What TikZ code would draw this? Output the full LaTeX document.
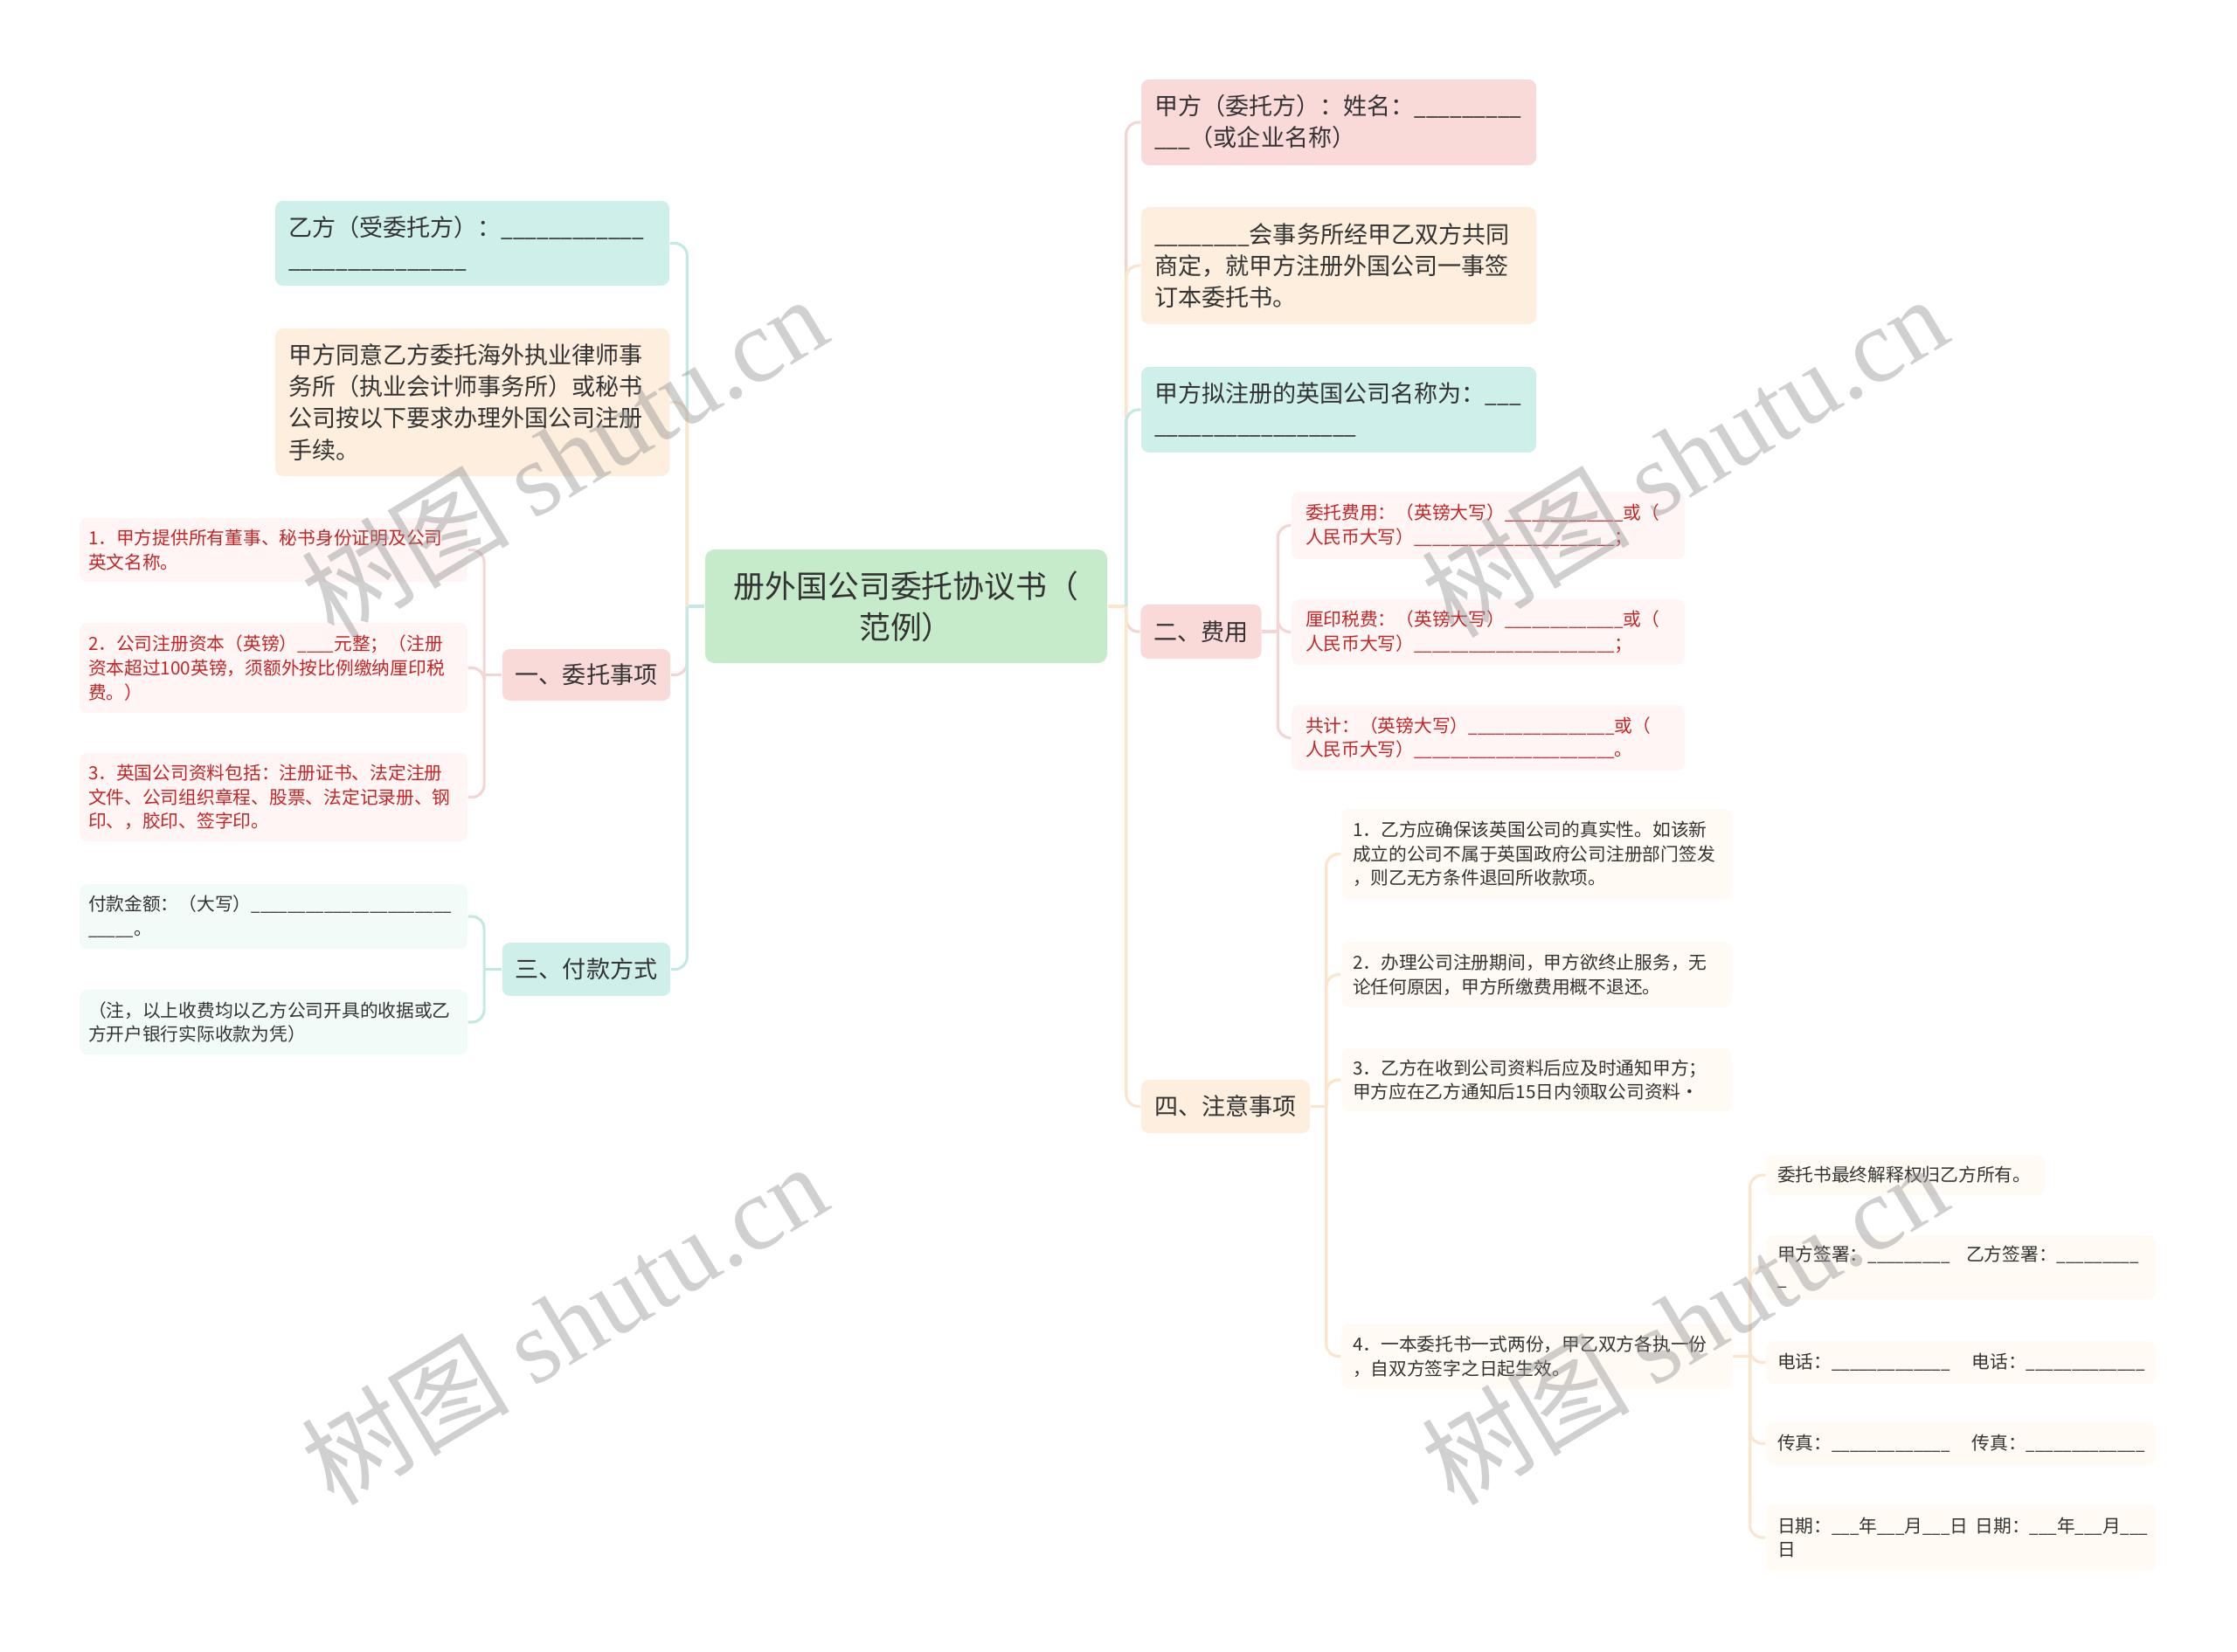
\documentclass[tikz,border=0pt]{standalone}
\usepackage{fontspec}
\setmainfont{Noto Sans CJK SC}
\newfontfamily\wmfont{Liberation Serif}
\usetikzlibrary{positioning}
\newcommand{\blank}[1]{\foreach \n in {1,...,#1}{\scalebox{0.9}[1]{\textunderscore}}}
\definecolor{rootgreen}{RGB}{198,235,203}
\definecolor{pinkfill}{RGB}{250,217,217}
\definecolor{tealfill}{RGB}{207,240,234}
\definecolor{orangefill}{RGB}{253,238,221}
\definecolor{pinkleaf}{RGB}{255,245,245}
\definecolor{tealleaf}{RGB}{243,251,249}
\definecolor{orangeleaf}{RGB}{255,250,243}
\definecolor{pinkline}{RGB}{245,212,212}
\definecolor{tealline}{RGB}{196,233,226}
\definecolor{orangeline}{RGB}{252,229,203}
\definecolor{inkgray}{RGB}{51,51,51}
\definecolor{inkred}{RGB}{196,38,38}
\definecolor{wmgray}{RGB}{150,150,150}
\tikzset
  {
    rootbox/.style  = {rectangle, rounded corners=3pt, fill=rootgreen, align=center, text=inkgray,
                       minimum width=4.6cm, minimum height=1.3cm, font=\fontsize{10.2}{13.4}\selectfont},
    topic/.style    = {rectangle, rounded corners=2.5pt, inner xsep=0.15cm, inner ysep=0pt, align=left,
                       text=inkgray, font=\fontsize{7.7}{10.3}\selectfont},
    leaf/.style     = {rectangle, rounded corners=2.5pt, inner xsep=0.1cm, inner ysep=0pt, align=left,
                       text=inkgray, font=\fontsize{5.9}{7.9}\selectfont},
    conn/.style     = {line width=0.9pt},
    watermark/.style= {text=wmgray, opacity=0.45, font=\fontsize{34}{34}\selectfont},
  }

\begin{document}
\begin{tikzpicture}
  \useasboundingbox (0,0) rectangle (25.6,-18.9);
  % centre
  \node[rootbox] (root) at (10.37,-6.94) {册外国公司委托协议书（\\范例）};
  % left branches
  \node[topic, fill=tealfill, text width=4.21cm, minimum height=0.97cm] (l1) at (5.405,-2.785) {乙方（受委托方）：\blank{12}\\\blank{15}};
  \node[topic, fill=orangefill, text width=4.21cm, minimum height=1.69cm] (l2) at (5.405,-4.605) {甲方同意乙方委托海外执业律师事\\务所（执业会计师事务所）或秘书\\公司按以下要求办理外国公司注册\\手续。};
  \node[topic, fill=pinkfill, minimum width=1.9cm, minimum height=0.59cm, align=center] (l3) at (6.71,-7.725) {一、委托事项};
  \node[topic, fill=tealfill, minimum width=1.9cm, minimum height=0.61cm, align=center] (l4) at (6.71,-11.095) {三、付款方式};
  \node[leaf, fill=pinkleaf, text=inkred, text width=4.24cm, minimum height=0.73cm] (a1) at (3.13,-6.295) {1．甲方提供所有董事、秘书身份证明及公司\\英文名称。};
  \node[leaf, fill=pinkleaf, text=inkred, text width=4.24cm, minimum height=1.03cm] (a2) at (3.13,-7.645) {2．公司注册资本（英镑）\blank{4}元整；（注册\\资本超过100英镑，须额外按比例缴纳厘印税\\费。）};
  \node[leaf, fill=pinkleaf, text=inkred, text width=4.24cm, minimum height=1.01cm] (a3) at (3.13,-9.125) {3．英国公司资料包括：注册证书、法定注册\\文件、公司组织章程、股票、法定记录册、钢\\印、，胶印、签字印。};
  \node[leaf, fill=tealleaf, text width=4.24cm, minimum height=0.74cm] (b1) at (3.13,-10.49) {付款金额：（大写）\blank{22}\\\blank{5}。};
  \node[leaf, fill=tealleaf, text width=4.24cm, minimum height=0.74cm] (b2) at (3.13,-11.70) {（注，以上收费均以乙方公司开具的收据或乙\\方开户银行实际收款为凭）};
  % right branches
  \node[topic, fill=pinkfill, text width=4.22cm, minimum height=0.98cm] (r1) at (15.32,-1.40) {甲方（委托方）：姓名：\blank{9}\\\blank{3}（或企业名称）};
  \node[topic, fill=orangefill, text width=4.22cm, minimum height=1.34cm] (r2) at (15.32,-3.04) {\blank{8}会事务所经甲乙双方共同\\商定，就甲方注册外国公司一事签\\订本委托书。};
  \node[topic, fill=tealfill, text width=4.22cm, minimum height=0.98cm] (r3) at (15.32,-4.69) {甲方拟注册的英国公司名称为：\blank{3}\\\blank{17}};
  \node[topic, fill=pinkfill, minimum width=1.37cm, minimum height=0.62cm, align=center] (r4) at (13.745,-7.23) {二、费用};
  \node[topic, fill=orangefill, minimum width=1.93cm, minimum height=0.61cm, align=center] (r5) at (14.025,-12.665) {四、注意事项};
  \node[leaf, fill=pinkleaf, text=inkred, inner xsep=0.16cm, text width=4.18cm, minimum height=0.77cm] (f1) at (17.03,-6.015) {委托费用：（英镑大写）\blank{13}或（\\人民币大写）\blank{22}；};
  \node[leaf, fill=pinkleaf, text=inkred, inner xsep=0.16cm, text width=4.18cm, minimum height=0.75cm] (f2) at (17.03,-7.235) {厘印税费：（英镑大写）\blank{13}或（\\人民币大写）\blank{22}；};
  \node[leaf, fill=pinkleaf, text=inkred, inner xsep=0.16cm, text width=4.18cm, minimum height=0.75cm] (f3) at (17.03,-8.445) {共计：（英镑大写）\blank{16}或（\\人民币大写）\blank{22}。};
  \node[leaf, fill=orangeleaf, inner xsep=0.13cm, text width=4.21cm, minimum height=1.03cm] (n1) at (17.585,-9.775) {1．乙方应确保该英国公司的真实性。如该新\\成立的公司不属于英国政府公司注册部门签发\\，则乙无方条件退回所收款项。};
  \node[leaf, fill=orangeleaf, inner xsep=0.13cm, text width=4.21cm, minimum height=0.75cm] (n2) at (17.585,-11.155) {2．办理公司注册期间，甲方欲终止服务，无\\论任何原因，甲方所缴费用概不退还。};
  \node[leaf, fill=orangeleaf, inner xsep=0.13cm, text width=4.21cm, minimum height=0.72cm] (n3) at (17.585,-12.36) {3．乙方在收到公司资料后应及时通知甲方；\\甲方应在乙方通知后15日内领取公司资料·};
  \node[leaf, fill=orangeleaf, inner xsep=0.13cm, text width=4.21cm, minimum height=0.75cm] (n4) at (17.585,-15.525) {4．一本委托书一式两份，甲乙双方各执一份\\，自双方签字之日起生效。};
  \node[leaf, fill=orangeleaf, inner xsep=0.13cm, text width=2.93cm, minimum height=0.46cm] (s1) at (21.805,-13.45) {委托书最终解释权归乙方所有。};
  \node[leaf, fill=orangeleaf, inner xsep=0.13cm, text width=4.2cm, minimum height=0.73cm] (s2) at (22.44,-14.505) {\mbox{甲方签署：\blank{9}\hspace{0.9em}乙方签署：\blank{9}}\\\blank{1}};
  \node[leaf, fill=orangeleaf, inner xsep=0.13cm, text width=4.2cm, minimum height=0.49cm] (s3) at (22.44,-15.595) {\mbox{电话：\blank{13}\hspace{1.2em}电话：\blank{13}}};
  \node[leaf, fill=orangeleaf, inner xsep=0.13cm, text width=4.2cm, minimum height=0.49cm] (s4) at (22.44,-16.525) {\mbox{传真：\blank{13}\hspace{1.2em}传真：\blank{13}}};
  \node[leaf, fill=orangeleaf, inner xsep=0.13cm, text width=4.2cm, minimum height=0.76cm] (s5) at (22.44,-17.60) {\mbox{日期：\blank{3}年\blank{3}月\blank{3}日\hspace{0.4em}日期：\blank{3}年\blank{3}月\blank{3}}\\日};

  % connectors, left of the centre
  \draw[conn, tealline] (root.west) -- ++(-0.2,0) coordinate (jl);
  \draw[conn, tealline, rounded corners=4pt] (jl) |- (l1.east);
  \draw[conn, orangeline, rounded corners=4pt] (jl) |- (l2.east);
  \draw[conn, pinkline, rounded corners=4pt] (jl) |- (l3.east);
  \draw[conn, tealline, rounded corners=4pt] (jl) |- (l4.east);
  \draw[conn, pinkline] (l3.west) -- ++(-0.2,0) coordinate (ja);
  \foreach \c in {a1,a2,a3}
    \draw[conn, pinkline, rounded corners=4pt] (ja) |- (\c.east);
  \draw[conn, tealline] (l4.west) -- ++(-0.2,0) coordinate (jb);
  \foreach \c in {b1,b2}
    \draw[conn, tealline, rounded corners=4pt] (jb) |- (\c.east);
  % connectors, right of the centre
  \draw[conn, orangeline] (root.east) -- ++(0.21,0) coordinate (jr);
  \draw[conn, pinkline, rounded corners=4pt] (jr) |- (r1.west);
  \draw[conn, orangeline, rounded corners=4pt] (jr) |- (r2.west);
  \draw[conn, tealline, rounded corners=4pt] (jr) |- (r3.west);
  \draw[conn, pinkline, rounded corners=4pt] (jr) |- (r4.west);
  \draw[conn, orangeline, rounded corners=4pt] (jr) |- (r5.west);
  \draw[conn, pinkline] (r4.east) -- ++(0.18,0) coordinate (jf);
  \foreach \c in {f1,f2,f3}
    \draw[conn, pinkline, rounded corners=4pt] (jf) |- (\c.west);
  \draw[conn, orangeline] (r5.east) -- ++(0.18,0) coordinate (jn);
  \foreach \c in {n1,n2,n3,n4}
    \draw[conn, orangeline, rounded corners=4pt] (jn) |- (\c.west);
  \draw[conn, orangeline] (n4.east) -- ++(0.2,0) coordinate (js);
  \foreach \c in {s1,s2,s3,s4,s5}
    \draw[conn, orangeline, rounded corners=4pt] (js) |- (\c.west);

  % watermarks
  \node[watermark, rotate=31] (wm1) at (6.45,-5.22) {树图 {\wmfont shutu.cn}};
  \node[watermark, rotate=31] (wm2) at (19.27,-5.22) {树图 {\wmfont shutu.cn}};
  \node[watermark, rotate=31] (wm3) at (6.45,-15.15) {树图 {\wmfont shutu.cn}};
  \node[watermark, rotate=31] (wm4) at (19.27,-15.15) {树图 {\wmfont shutu.cn}};
\end{tikzpicture}
\end{document}
